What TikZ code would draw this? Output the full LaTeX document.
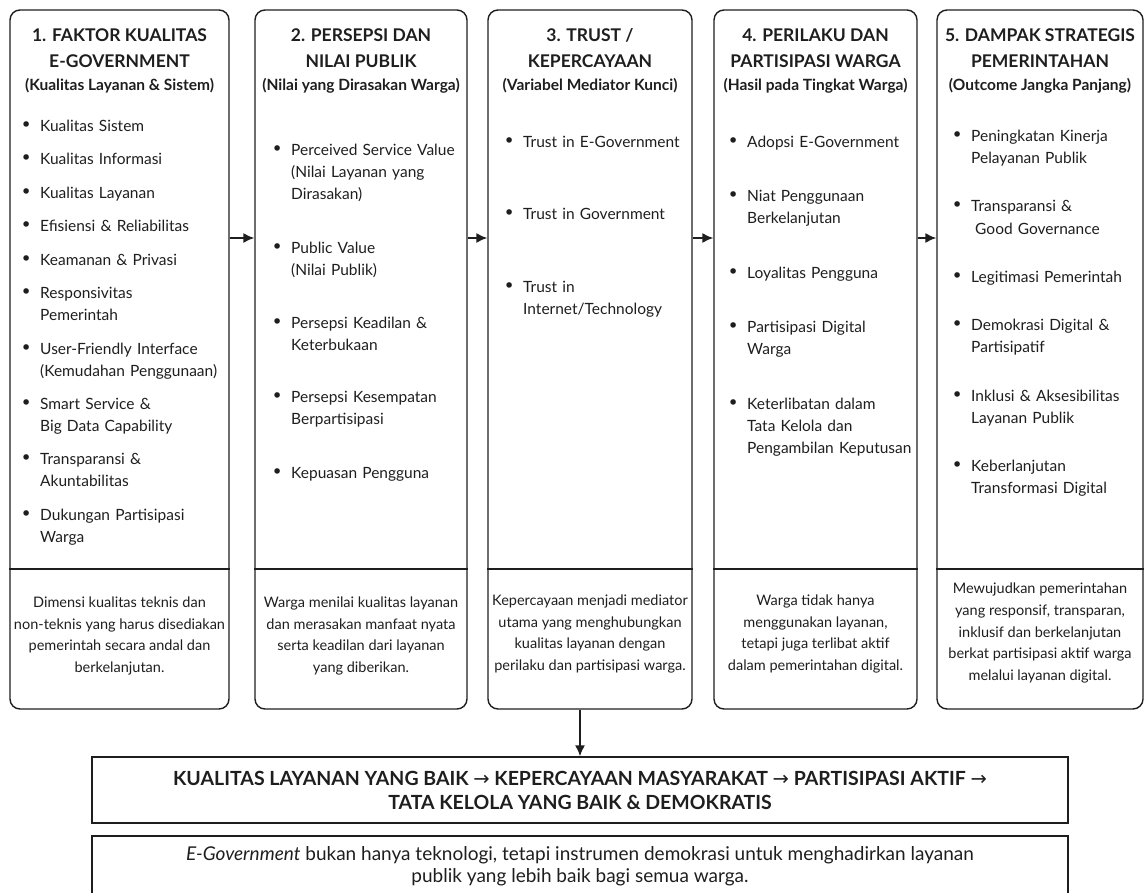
\documentclass[tikz,border=0pt]{standalone}
\usepackage{fontspec}
\setmainfont{Lato}
\newfontfamily\arrowfont{DejaVu Sans}
\usetikzlibrary{positioning,arrows.meta}

\definecolor{ink}{HTML}{1E1E1E}
\newcommand{\hdfont}{\fontsize{17.5}{26}\selectfont\bfseries}
\newcommand{\sbfont}{\fontsize{15.5}{19}\selectfont\bfseries}
\newcommand{\ptfont}{\fontsize{15.5}{22}\selectfont}
\newcommand{\smfont}{\fontsize{14.5}{21.7}\selectfont}
\newcommand{\flfont}{\fontsize{19.5}{24}\selectfont\bfseries}
\newcommand{\ntfont}{\fontsize{19}{22}\selectfont}
\newcommand{\nextstep}{{\arrowfont\mdseries →}}

\tikzset{
  panel/.style={draw=ink, line width=1.4pt, rounded corners=10pt,
    minimum height=699pt, inner sep=0pt},
  head/.style={font=\hdfont, align=center, text=ink, inner sep=0pt},
  subhead/.style={font=\sbfont, text=ink, inner sep=0pt},
  point/.style={anchor=north west, inner sep=0pt, text width=186pt,
    align=left, font=\ptfont, text=ink,
    execute at begin node=\strut, execute at end node=\strut,
    label={[dot]north west:\strut•}},
  dot/.style={anchor=north east, inner sep=0pt, xshift=-8pt,
    font=\fontsize{19}{22}\selectfont\arrowfont, text=ink},
  summary/.style={font=\smfont, align=center, text=ink, inner sep=0pt},
  rule/.style={draw=ink, line width=1.4pt},
  arr/.style={draw=ink, line width=1.5pt, -{Latex[length=11pt,width=10pt]}},
  flowbox/.style={draw=ink, line width=1.4pt, minimum width=976pt,
    minimum height=66pt, font=\flfont, align=center, text=ink, inner sep=0pt},
  notebox/.style={draw=ink, line width=1.4pt, minimum width=976pt,
    minimum height=60pt, font=\ntfont, align=center, text=ink, inner sep=0pt}
}

\begin{document}
\begin{tikzpicture}[x=1pt, y=-1pt]
  \useasboundingbox (0,0) rectangle (1147,893);
  \clip (0,0) rectangle (1147,893);

  % Panels
  \node[panel, minimum width=219pt] (p1) at (119.5,359.5) {};
  \node[panel, minimum width=212pt] (p2) at (361,359.5) {};
  \node[panel, minimum width=204pt] (p3) at (590,359.5) {};
  \node[panel, minimum width=203pt] (p4) at (815.5,359.5) {};
  \node[panel, minimum width=206pt] (p5) at (1040,359.5) {};
  \coordinate (divline) at (0,569);
  \coordinate (arrowrow) at (0,238);
  \foreach \p in {p1,p2,p3,p4,p5}
    \draw[rule] (\p.west |- divline) -- (\p.east |- divline);

  % Headings
  \node[head] (hd1) at (p1 |- 0,48) {1. FAKTOR KUALITAS\\E-GOVERNMENT};
  \node[head] (hd2) at (p2 |- 0,48) {2. PERSEPSI DAN\\NILAI PUBLIK};
  \node[head] (hd3) at (p3 |- 0,48) {3. TRUST /\\KEPERCAYAAN};
  \node[head] (hd4) at (p4 |- 0,48) {4. PERILAKU DAN\\PARTISIPASI WARGA};
  \node[head] (hd5) at (p5 |- 0,48) {5. DAMPAK STRATEGIS\\PEMERINTAHAN};
  \node[subhead] (sub1) at (p1 |- 0,86) {(Kualitas Layanan \& Sistem)};
  \node[subhead] (sub2) at (p2 |- 0,86) {(Nilai yang Dirasakan Warga)};
  \node[subhead] (sub3) at (p3 |- 0,86) {(Variabel Mediator Kunci)};
  \node[subhead] (sub4) at (p4 |- 0,86) {(Hasil pada Tingkat Warga)};
  \node[subhead] (sub5) at (p5 |- 0,86) {(Outcome Jangka Panjang)};

  % Points, column 1
  \node[point] (f1) at (40,116) {Kualitas Sistem};
  \node[below=11pt of f1.south west, point] (f2) {Kualitas Informasi};
  \node[below=11pt of f2.south west, point] (f3) {Kualitas Layanan};
  \node[below=11pt of f3.south west, point] (f4) {Efisiensi \& Reliabilitas};
  \node[below=11pt of f4.south west, point] (f5) {Keamanan \& Privasi};
  \node[below=11pt of f5.south west, point] (f6) {Responsivitas\\Pemerintah};
  \node[below=11pt of f6.south west, point] (f7) {User-Friendly Interface\\(Kemudahan Penggunaan)};
  \node[below=11pt of f7.south west, point] (f8) {Smart Service \&\\Big Data Capability};
  \node[below=11pt of f8.south west, point] (f9) {Transparansi \&\\Akuntabilitas};
  \node[below=11pt of f9.south west, point] (f10) {Dukungan Partisipasi\\Warga};

  % Points, column 2
  \node[point] (v1) at (291,140) {Perceived Service Value\\(Nilai Layanan yang\\Dirasakan)};
  \node[below=31pt of v1.south west, point] (v2) {Public Value\\(Nilai Publik)};
  \node[below=31pt of v2.south west, point] (v3) {Persepsi Keadilan \&\\Keterbukaan};
  \node[below=30pt of v3.south west, point] (v4) {Persepsi Kesempatan\\Berpartisipasi};
  \node[below=31pt of v4.south west, point] (v5) {Kepuasan Pengguna};

  % Points, column 3
  \node[point] (tr1) at (523,132) {Trust in E-Government};
  \node[below=50pt of tr1.south west, point] (tr2) {Trust in Government};
  \node[below=50pt of tr2.south west, point] (tr3) {Trust in\\Internet/Technology};

  % Points, column 4
  \node[point] (w1) at (747,132) {Adopsi E-Government};
  \node[below=32pt of w1.south west, point] (w2) {Niat Penggunaan\\Berkelanjutan};
  \node[below=32pt of w2.south west, point] (w3) {Loyalitas Pengguna};
  \node[below=32pt of w3.south west, point] (w4) {Partisipasi Digital\\Warga};
  \node[below=32pt of w4.south west, point] (w5) {Keterlibatan dalam\\Tata Kelola dan\\Pengambilan Keputusan};

  % Points, column 5
  \node[point] (s1) at (971,126) {Peningkatan Kinerja\\Pelayanan Publik};
  \node[below=26pt of s1.south west, point] (s2) {Transparansi \&\\\hspace*{4pt}Good Governance};
  \node[below=26pt of s2.south west, point] (s3) {Legitimasi Pemerintah};
  \node[below=26pt of s3.south west, point] (s4) {Demokrasi Digital \&\\Partisipatif};
  \node[below=26pt of s4.south west, point] (s5) {Inklusi \& Aksesibilitas\\Layanan Publik};
  \node[below=26pt of s5.south west, point] (s6) {Keberlanjutan\\Transformasi Digital};

  % Summaries
  \node[summary] (sum1) at (p1 |- 0,636) {Dimensi kualitas teknis dan\\non-teknis yang harus disediakan\\pemerintah secara andal dan\\berkelanjutan.};
  \node[summary] (sum2) at (p2 |- 0,636) {Warga menilai kualitas layanan\\dan merasakan manfaat nyata\\serta keadilan dari layanan\\yang diberikan.};
  \node[summary] (sum3) at (p3 |- 0,634) {Kepercayaan menjadi mediator\\utama yang menghubungkan\\kualitas layanan dengan\\perilaku dan partisipasi warga.};
  \node[summary] (sum4) at (p4 |- 0,634) {Warga tidak hanya\\menggunakan layanan,\\tetapi juga terlibat aktif\\dalam pemerintahan digital.};
  \node[summary] (sum5) at (p5 |- 0,633) {Mewujudkan pemerintahan\\yang responsif, transparan,\\inklusif dan berkelanjutan\\berkat partisipasi aktif warga\\melalui layanan digital.};

  % Bottom boxes
  \node[flowbox] (flow) at (580,790) {KUALITAS LAYANAN YANG BAIK \nextstep{} KEPERCAYAAN MASYARAKAT \nextstep{} PARTISIPASI AKTIF \nextstep\\TATA KELOLA YANG BAIK \& DEMOKRATIS};
  \node[notebox] (note) at (580,866) {\textit{E-Government} bukan hanya teknologi, tetapi instrumen demokrasi untuk menghadirkan layanan\\publik yang lebih baik bagi semua warga.};

  % Arrows
  \draw[arr] (p1.east |- arrowrow) -- (p2.west |- arrowrow);
  \draw[arr] (p2.east |- arrowrow) -- (p3.west |- arrowrow);
  \draw[arr] (p3.east |- arrowrow) -- (p4.west |- arrowrow);
  \draw[arr] (p4.east |- arrowrow) -- (p5.west |- arrowrow);
  \draw[arr] (flow.north |- p3.south) -- (flow.north);
\end{tikzpicture}
\end{document}
